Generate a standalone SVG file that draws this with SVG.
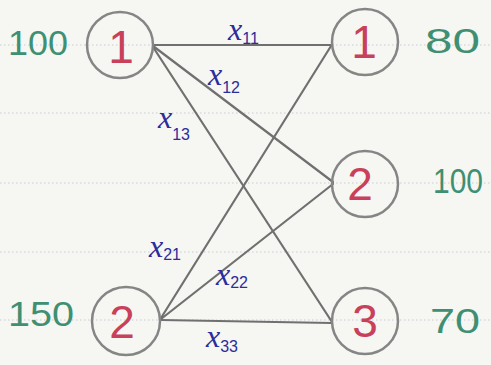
<svg xmlns="http://www.w3.org/2000/svg" width="491" height="365" viewBox="0 0 491 365">
<style>
.paper{fill:#f6f6f3}
.rule{stroke:#c9ccd2;stroke-width:1.2;stroke-dasharray:1.5 2.5}
.node circle{fill:none;stroke:#858585;stroke-width:2.5}
.node text{font-family:"Liberation Sans",sans-serif;font-size:46px;fill:#c8405a;text-anchor:middle}
.edge{stroke:#707070;stroke-width:2.2;fill:none;stroke-linecap:round}
.lbl{font-family:"Liberation Serif",serif;font-style:italic;font-size:32px;fill:#2c2c9a}
.lbl tspan.s{font-size:16px;font-style:normal;font-family:"Liberation Sans",sans-serif}
.amt{font-family:"Liberation Sans",sans-serif;font-size:35px;fill:#3f8f72}
</style>
<rect class="paper" x="0" y="0" width="491" height="365"/>
<g id="paper-lines">
<line class="rule" x1="0" y1="45" x2="491" y2="45"/>
<line class="rule" x1="0" y1="113" x2="491" y2="113"/>
<line class="rule" x1="0" y1="183" x2="491" y2="183"/>
<line class="rule" x1="0" y1="252" x2="491" y2="252"/>
<line class="rule" x1="0" y1="320" x2="491" y2="320"/>
</g>
<g id="connectors">
<line class="edge" x1="153" y1="45" x2="331" y2="45"/>
<line class="edge" x1="153" y1="46" x2="333" y2="182"/>
<line class="edge" x1="153" y1="47" x2="332" y2="322"/>
<line class="edge" x1="161" y1="318" x2="331" y2="46"/>
<line class="edge" x1="161" y1="319" x2="333" y2="184"/>
<line class="edge" x1="161" y1="320" x2="332" y2="323"/>
</g>
<g id="labels">
<text class="lbl" x="228" y="40">x<tspan class="s" dy="4">11</tspan></text>
<text class="lbl" x="208" y="85">x<tspan class="s" dy="8">12</tspan></text>
<text class="lbl" x="158" y="128">x<tspan class="s" dy="12">13</tspan></text>
<text class="lbl" x="149" y="257">x<tspan class="s" dy="3">21</tspan></text>
<text class="lbl" x="216" y="285">x<tspan class="s" dy="3">22</tspan></text>
<text class="lbl" x="206" y="347">x<tspan class="s" dy="5">33</tspan></text>
</g>
<g id="s1" class="node"><circle cx="120" cy="45" r="33"/><text x="121" y="63">1</text></g>
<g id="s2" class="node"><circle cx="126" cy="321" r="34"/><text x="122" y="338">2</text></g>
<g id="d1" class="node"><circle cx="365" cy="42" r="33"/><text x="364" y="58">1</text></g>
<g id="d2" class="node"><circle cx="365" cy="184" r="33"/><text x="360" y="200">2</text></g>
<g id="d3" class="node"><circle cx="365" cy="321" r="33"/><text x="365" y="337">3</text></g>
<g id="amounts">
<text class="amt" x="8" y="55" textLength="60" lengthAdjust="spacingAndGlyphs">100</text>
<text class="amt" x="8" y="326" textLength="66" lengthAdjust="spacingAndGlyphs">150</text>
<text class="amt" x="425" y="53" textLength="55" lengthAdjust="spacingAndGlyphs">80</text>
<text class="amt" x="433" y="193" textLength="50" lengthAdjust="spacingAndGlyphs">100</text>
<text class="amt" x="430" y="333" textLength="50" lengthAdjust="spacingAndGlyphs">70</text>
</g>
</svg>
